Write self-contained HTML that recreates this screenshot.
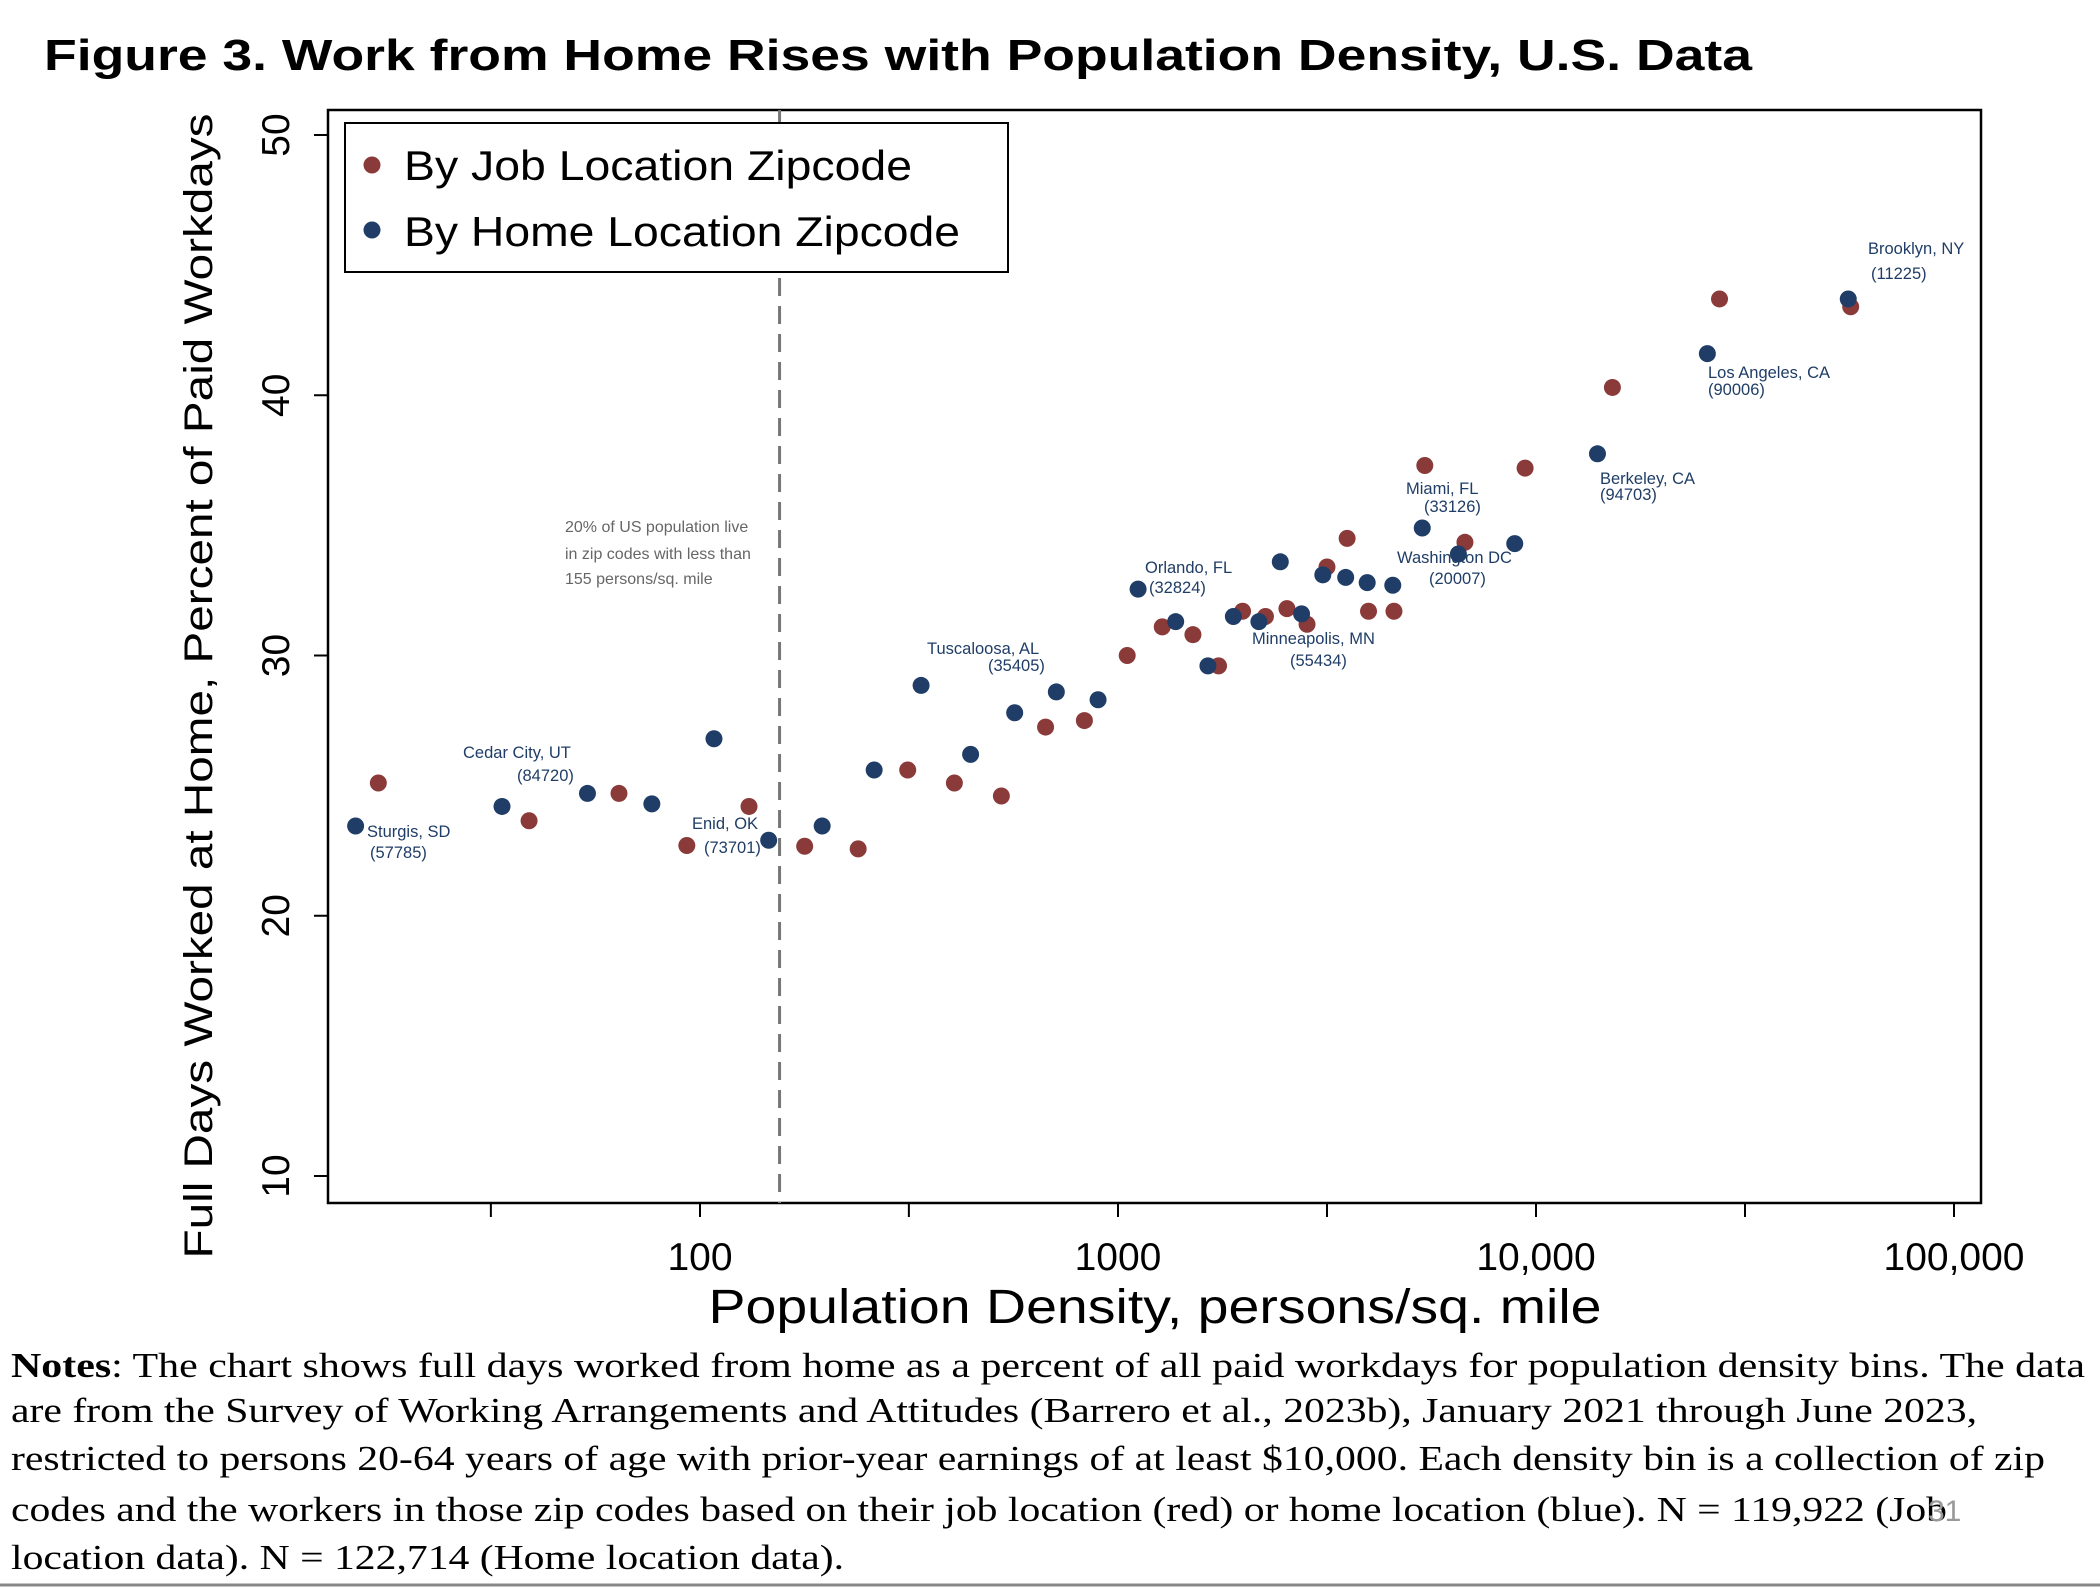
<!DOCTYPE html>
<html><head><meta charset="utf-8">
<style>html,body{margin:0;padding:0;background:#fff}svg{display:block}</style>
</head><body>
<svg id="chart" width="2100" height="1588" viewBox="0 0 2100 1588" xmlns="http://www.w3.org/2000/svg" font-family="Liberation Sans, sans-serif">
<text x="44" y="70" font-size="44" font-weight="bold" textLength="1708" lengthAdjust="spacingAndGlyphs">Figure 3. Work from Home Rises with Population Density, U.S. Data</text>
<rect x="328" y="110" width="1653" height="1093" fill="none" stroke="#000" stroke-width="2.5"/>
<g id="yaxis"></g>
<g id="xaxis"></g>
<line id="cutoff" y1="110" y2="1203" stroke="#777" stroke-width="3" stroke-dasharray="18,10"/>
<g fill="#666" font-size="16">
<text x="565" y="532">20% of US population live</text>
<text x="565" y="559">in zip codes with less than</text>
<text x="565" y="584">155 persons/sq. mile</text>
</g>
<g id="points"></g>
<g fill="#1f3d66" font-size="16.5">
<text x="1868" y="254">Brooklyn, NY</text><text x="1871" y="279">(11225)</text>
<text x="1708" y="378">Los Angeles, CA</text><text x="1708" y="395">(90006)</text>
<text x="1600" y="484">Berkeley, CA</text><text x="1600" y="500">(94703)</text>
<text x="1406" y="494">Miami, FL</text><text x="1424" y="512">(33126)</text>
<text x="1397" y="563">Washington DC</text><text x="1429" y="584">(20007)</text>
<text x="1145" y="573">Orlando, FL</text><text x="1149" y="593">(32824)</text>
<text x="1252" y="644">Minneapolis, MN</text><text x="1290" y="666">(55434)</text>
<text x="927" y="654">Tuscaloosa, AL</text><text x="988" y="671">(35405)</text>
<text x="463" y="758">Cedar City, UT</text><text x="517" y="781">(84720)</text>
<text x="692" y="829">Enid, OK</text><text x="704" y="853">(73701)</text>
<text x="367" y="837">Sturgis, SD</text><text x="370" y="858">(57785)</text>
</g>
<g>
<rect x="345" y="123" width="663" height="149" fill="#fff" stroke="#000" stroke-width="2"/>
<circle cx="372" cy="165" r="8.5" fill="#8b3a3a"/>
<text x="404" y="180" font-size="42" textLength="508" lengthAdjust="spacingAndGlyphs">By Job Location Zipcode</text>
<circle cx="372" cy="230" r="8.5" fill="#1f3d66"/>
<text x="404" y="246" font-size="42" textLength="556" lengthAdjust="spacingAndGlyphs">By Home Location Zipcode</text>
</g>
<text transform="translate(212,686) rotate(-90)" text-anchor="middle" font-size="40" textLength="1145" lengthAdjust="spacingAndGlyphs">Full Days Worked at Home, Percent of Paid Workdays</text>
<text x="1155" y="1323" text-anchor="middle" font-size="48" textLength="893" lengthAdjust="spacingAndGlyphs">Population Density, persons/sq. mile</text>
<g font-family="Liberation Serif, serif" font-size="35">
<text x="11" y="1377" textLength="2074" lengthAdjust="spacingAndGlyphs"><tspan font-weight="bold">Notes</tspan>: The chart shows full days worked from home as a percent of all paid workdays for population density bins.  The data</text>
<text x="11" y="1422" textLength="1966" lengthAdjust="spacingAndGlyphs">are from the Survey of Working Arrangements and Attitudes (Barrero et al., 2023b), January 2021 through June 2023,</text>
<text x="11" y="1470" textLength="2034" lengthAdjust="spacingAndGlyphs">restricted to persons 20-64 years of age with prior-year earnings of at least $10,000. Each density bin is a collection of zip</text>
<text x="11" y="1521" textLength="1936" lengthAdjust="spacingAndGlyphs">codes and the workers in those zip codes based on their job location (red) or home location (blue). N = 119,922 (Job</text>
<text x="11" y="1569" textLength="833" lengthAdjust="spacingAndGlyphs">location data). N = 122,714 (Home location data).</text>
</g>
<text x="1928" y="1521" font-size="30" fill="#999">31</text>
<line x1="0" y1="1585" x2="2100" y2="1585" stroke="#888" stroke-width="3"/>
<script>
const jobDensity=[17,39,64,93,131,178,239,314,406,526,671,831,1052,1276,1511,1740,1986,2253,2536,2833,3162,3533,3975,4573,5420,6761,9417,15233,27480,56600];
const jobWFH=[25.1,23.65,24.7,22.7,24.2,22.67,22.57,25.6,25.1,24.6,27.25,27.5,30.0,31.1,30.8,29.6,31.7,31.5,31.8,31.2,33.4,34.5,31.7,31.7,37.3,34.35,37.2,40.3,43.7,43.4];
const homeDensity=[15,33.6,53.8,76.7,108,146,196,261,338,444,566,712,896,1117,1374,1641,1888,2173,2445,2749,3090,3505,3946,4543,5344,6521,8895,14030,25700,55850];
const homeWFH=[23.45,24.2,24.7,24.3,26.8,22.9,23.45,25.6,28.85,26.2,27.8,28.6,28.3,32.55,31.3,29.6,31.5,31.3,33.6,31.6,33.1,33.0,32.8,32.7,34.9,33.9,34.3,37.75,41.6,43.7];
const yTicks=[10,20,30,40,50];
const xTickValues=[100,1000,10000,100000];
const xTickLabels=["100","1000","10,000","100,000"];
const xMinorTicks=[31.6,316,3162,31623];
const cutoffDensity=155;
const NS="http://www.w3.org/2000/svg";
function xs(d){return 700+(Math.log10(d)-2)*418;}
function ys(v){return 1176-(v-10)*(1041/40);}
function mk(tag,attrs,parent){const e=document.createElementNS(NS,tag);for(const k in attrs)e.setAttribute(k,attrs[k]);parent.appendChild(e);return e;}
const ya=document.getElementById('yaxis'),xa=document.getElementById('xaxis'),pts=document.getElementById('points');
yTicks.forEach(v=>{
 const l=mk('line',{x1:314,x2:328,y1:ys(v),y2:ys(v),stroke:'#000','stroke-width':2},ya);
 
 
 const t=mk('text',{transform:`translate(289,${ys(v)}) rotate(-90)`,'text-anchor':'middle','font-size':39},ya);
 t.textContent=v;
 
 
});
xTickValues.forEach((d,i)=>{
 const l=mk('line',{x1:xs(d),x2:xs(d),y1:1203,y2:1217,stroke:'#000','stroke-width':2},xa);
 
 
 const t=mk('text',{x:xs(d),y:1270,'text-anchor':'middle','font-size':39},xa);
 t.textContent=xTickLabels[i];
 
 
});
xMinorTicks.forEach(d=>{
 const l=mk('line',{x1:xs(d),x2:xs(d),y1:1203,y2:1217,stroke:'#000','stroke-width':2},xa);
 
 
});
const cl=document.getElementById('cutoff');cl.setAttribute('x1',xs(cutoffDensity));cl.setAttribute('x2',xs(cutoffDensity));
jobDensity.forEach((d,i)=>{
 const c=mk('circle',{cx:xs(d),cy:ys(jobWFH[i]),r:8.5,fill:'#8b3a3a'},pts);
 
 
});
homeDensity.forEach((d,i)=>{
 const c=mk('circle',{cx:xs(d),cy:ys(homeWFH[i]),r:8.5,fill:'#1f3d66'},pts);
 
 
});
</script>
</svg>
</body></html>
